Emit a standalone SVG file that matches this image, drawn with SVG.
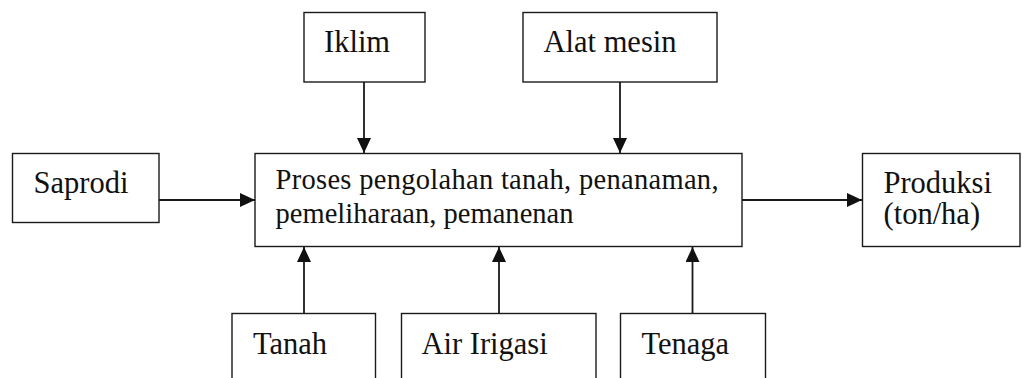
<svg xmlns="http://www.w3.org/2000/svg" width="1023" height="378" viewBox="0 0 1023 378">
<style>
.box{fill:#fff;stroke:#1a1a1a;stroke-width:1.4}
.lbl{font-family:"Liberation Serif","Times New Roman",serif;font-size:30.5px;fill:#111}
.main{font-family:"Liberation Serif","Times New Roman",serif;font-size:28.5px;fill:#111}
.con{stroke:#1a1a1a;stroke-width:1.8;fill:none}
</style>
<defs>
<marker id="arr" viewBox="0 0 15 14" refX="15" refY="7" markerWidth="15" markerHeight="14" markerUnits="userSpaceOnUse" orient="auto">
<path d="M0,0 L15,7 L0,14 Z" fill="#111"/>
</marker>
</defs>
<rect width="1023" height="378" fill="#fff"/>
<g id="connectors">
<line class="con" x1="364" y1="82" x2="364" y2="153" marker-end="url(#arr)"/>
<line class="con" x1="620" y1="82" x2="620" y2="153" marker-end="url(#arr)"/>
<line class="con" x1="159" y1="200" x2="255" y2="200" marker-end="url(#arr)"/>
<line class="con" x1="742" y1="200" x2="862" y2="200" marker-end="url(#arr)"/>
<line class="con" x1="304" y1="313" x2="304" y2="247" marker-end="url(#arr)"/>
<line class="con" x1="499" y1="313" x2="499" y2="247" marker-end="url(#arr)"/>
<line class="con" x1="692.5" y1="313" x2="692.5" y2="247" marker-end="url(#arr)"/>
</g>
<g id="iklim">
<rect class="box" x="304" y="12.5" width="121" height="69.5"/>
<text class="lbl" x="324" y="52">Iklim</text>
</g>
<g id="alat-mesin">
<rect class="box" x="523" y="12.5" width="194" height="69.5"/>
<text class="lbl" x="543.5" y="52">Alat mesin</text>
</g>
<g id="saprodi">
<rect class="box" x="12.5" y="153.5" width="146.5" height="69"/>
<text class="lbl" x="33.5" y="193">Saprodi</text>
</g>
<g id="proses">
<rect class="box" x="255" y="153.5" width="487" height="93"/>
<text class="main" x="275.5" y="188.5" textLength="443" lengthAdjust="spacing">Proses pengolahan tanah, penanaman,</text>
<text class="main" x="275.5" y="222.5" textLength="298" lengthAdjust="spacing">pemeliharaan, pemanenan</text>
</g>
<g id="produksi">
<rect class="box" x="862.5" y="153.5" width="157.5" height="93"/>
<text class="lbl" x="883.5" y="193">Produksi</text>
<text class="lbl" x="883.5" y="224">(ton/ha)</text>
</g>
<g id="tanah">
<rect class="box" x="232" y="313.5" width="143.5" height="80"/>
<text class="lbl" x="253" y="353.5">Tanah</text>
</g>
<g id="air-irigasi">
<rect class="box" x="401.5" y="313.5" width="194.5" height="80"/>
<text class="lbl" x="421.5" y="353.5">Air Irigasi</text>
</g>
<g id="tenaga">
<rect class="box" x="620.5" y="313.5" width="145" height="80"/>
<text class="lbl" x="641.5" y="353.5">Tenaga</text>
</g>
</svg>
